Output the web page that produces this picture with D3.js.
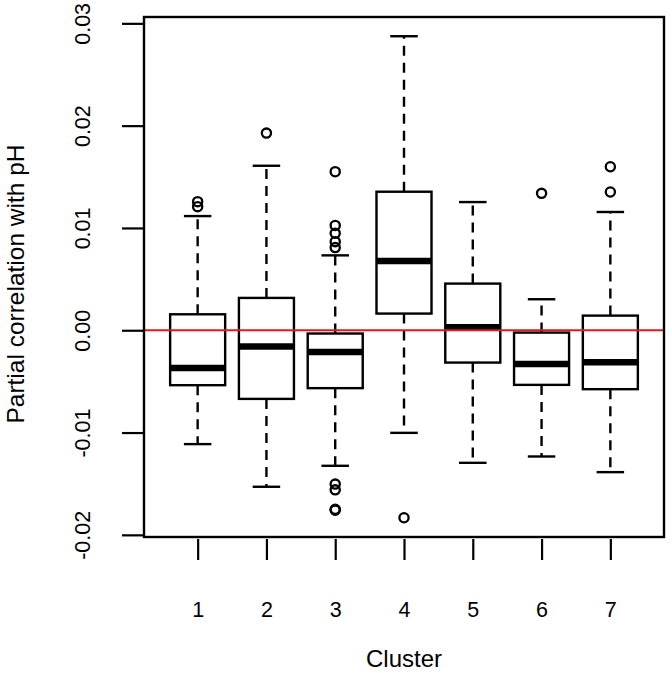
<!DOCTYPE html>
<html><head><meta charset="utf-8">
<script src="https://cdn.jsdelivr.net/npm/d3@7"></script>
<style>body{margin:0;background:#fff}svg{display:block}text{font-family:"Liberation Sans",Arial,Helvetica,sans-serif;fill:#000}</style>
</head><body>
<script>
const clusters = ["1","2","3","4","5","6","7"];
const lowerWhisker = [-0.01113, -0.0153, -0.01325, -0.01003, -0.01296, -0.01234, -0.01387];
const q1 =          [-0.00537, -0.00671, -0.00566, 0.00163, -0.00316, -0.00534, -0.00576];
const median =      [-0.00368, -0.00159, -0.00212, 0.00677, 0.00029, -0.00329, -0.00313];
const q3 =          [0.00156, 0.00316, -0.00032, 0.01354, 0.00456, -0.00023, 0.00143];
const upperWhisker =[0.01116, 0.01608, 0.00732, 0.02874, 0.01253, 0.00303, 0.01156];
const outliers = [
  [0.01257, 0.01208],
  [0.01927],
  [0.0155, 0.01025, 0.00947, 0.00866, 0.00808, -0.01504, -0.0156, -0.0175, -0.0176],
  [-0.01833],
  [],
  [0.01338],
  [0.01598, 0.01351]
];
const yTicks = [-0.02, -0.01, 0.00, 0.01, 0.02, 0.03];
const yTickLabels = ["-0.02", "-0.01", "0.00", "0.01", "0.02", "0.03"];
const xTitle = "Cluster";
const yTitle = "Partial correlation with pH";

const W = 672, H = 673;
const L = 144, R = 664, T = 17, B = 537;
const svg = d3.select("body").append("svg").attr("width", W).attr("height", H);

const x = d3.scaleLinear().domain([0.22, 7.78]).range([L, R]);
const y = d3.scaleLinear().domain([-0.02021, 0.03062]).range([B, T]);
const boxW = (x(1) - x(0)) * 0.8;
const capW = boxW * 0.5;

const data = clusters.map((c, i) => ({
  c, pos: i + 1, lw: lowerWhisker[i], q1: q1[i], med: median[i], q3: q3[i], uw: upperWhisker[i], out: outliers[i]
}));

const g = svg.append("g");
const lw = 2.4;

data.forEach(d => {
  const cx = x(d.pos);
  g.append("line").attr("x1", cx).attr("x2", cx).attr("y1", y(d.q3)).attr("y2", y(d.uw))
    .attr("stroke", "#000").attr("stroke-width", lw).attr("stroke-dasharray", "10,7");
  g.append("line").attr("x1", cx).attr("x2", cx).attr("y1", y(d.q1)).attr("y2", y(d.lw))
    .attr("stroke", "#000").attr("stroke-width", lw).attr("stroke-dasharray", "10,7");
  [d.uw, d.lw].forEach(v => {
    g.append("line").attr("x1", cx - capW / 2).attr("x2", cx + capW / 2).attr("y1", y(v)).attr("y2", y(v))
      .attr("stroke", "#000").attr("stroke-width", lw);
  });
  g.append("rect").attr("x", cx - boxW / 2).attr("width", boxW)
    .attr("y", y(d.q3)).attr("height", y(d.q1) - y(d.q3))
    .attr("fill", "#fff").attr("stroke", "#000").attr("stroke-width", lw);
  g.append("line").attr("x1", cx - boxW / 2).attr("x2", cx + boxW / 2).attr("y1", y(d.med)).attr("y2", y(d.med))
    .attr("stroke", "#000").attr("stroke-width", 6.5);
  d.out.forEach(v => {
    g.append("circle").attr("cx", cx).attr("cy", y(v)).attr("r", 4.6)
      .attr("fill", "none").attr("stroke", "#000").attr("stroke-width", 2.3);
  });
});

svg.append("line").attr("x1", L).attr("x2", R).attr("y1", y(0)).attr("y2", y(0))
  .attr("stroke", "#e8161b").attr("stroke-width", 2);

svg.append("rect").attr("x", L).attr("y", T).attr("width", R - L).attr("height", B - T)
  .attr("fill", "none").attr("stroke", "#000").attr("stroke-width", 2.4);

const yAxis = d3.axisLeft(y).tickValues(yTicks).tickSize(22).tickFormat((d, i) => yTickLabels[i]);
const ya = svg.append("g").attr("transform", `translate(${L},0)`).call(yAxis);
ya.select(".domain").remove();
ya.selectAll(".tick line").attr("stroke", "#000").attr("stroke-width", 2.2);
ya.selectAll(".tick text").attr("x", 0).attr("dy", 0).attr("transform", "translate(-54,0) rotate(-90)")
  .attr("text-anchor", "middle").style("font-size", "21.5px");

const xAxis = d3.axisBottom(x).tickValues(data.map(d => d.pos)).tickSize(21).tickFormat((d, i) => clusters[i]);
const xa = svg.append("g").attr("transform", `translate(0,${B + 2})`).call(xAxis);
xa.select(".domain").remove();
xa.selectAll(".tick line").attr("stroke", "#000").attr("stroke-width", 2.2);
xa.selectAll(".tick text").attr("y", 78).attr("dy", 0).style("font-size", "21.5px");

svg.append("text").attr("x", (L + R) / 2).attr("y", 667).attr("text-anchor", "middle")
  .style("font-size", "24px").text(xTitle);
svg.append("text").attr("transform", `translate(24,${(T + B) / 2 + 7}) rotate(-90)`).attr("text-anchor", "middle")
  .style("font-size", "24.5px").text(yTitle);
</script>
</body></html>
